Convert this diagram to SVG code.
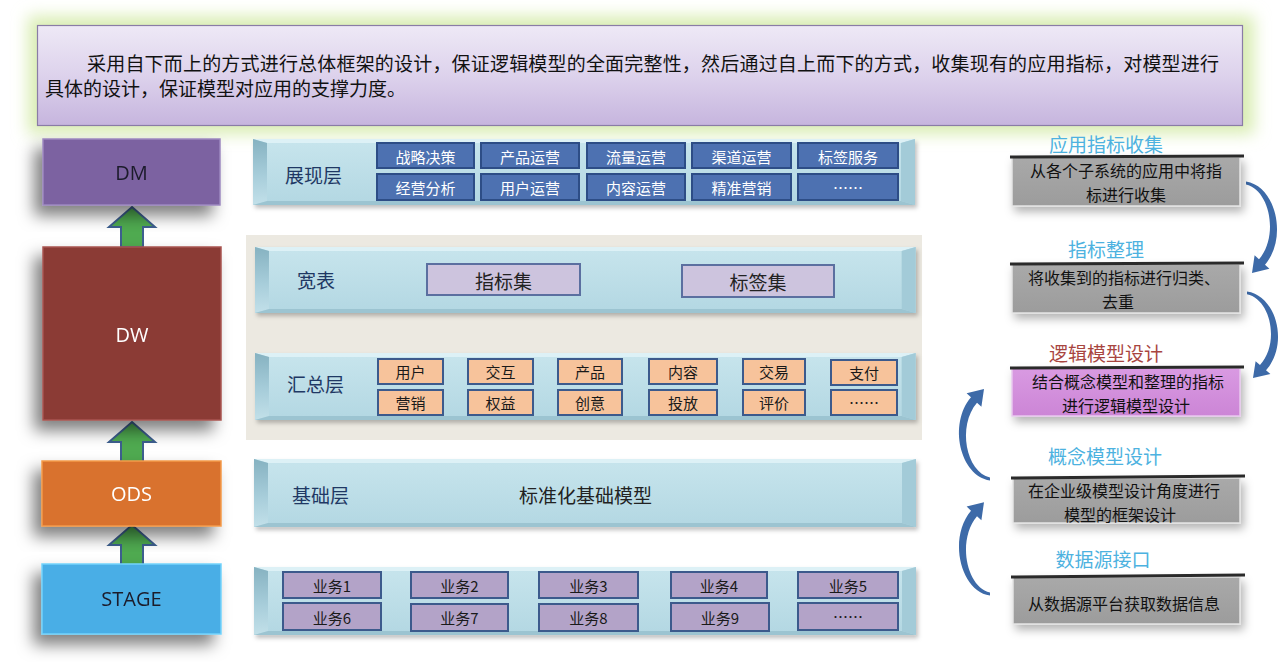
<svg xmlns="http://www.w3.org/2000/svg" xmlns:xlink="http://www.w3.org/1999/xlink" width="1280" height="672" viewBox="0 0 1280 672">
<style>
  .cn { font-family: "Noto Sans CJK SC", "Noto Sans", sans-serif; }
  .lat { font-family: "Open Sans", "DejaVu Sans", sans-serif; font-size: 20px; text-anchor: middle; dominant-baseline: central; }
  .lbl { font-size: 19px; fill: #1f3864; dominant-baseline: central; }
  .btn { fill: #4d71b1; stroke: #2d4d86; stroke-width: 2; }
  .btnt { font-size: 15px; fill: #ffffff; text-anchor: middle; dominant-baseline: central; }
  .org { fill: #f7c39b; stroke: #3c5a8c; stroke-width: 2; }
  .pur { fill: #b3a3c8; stroke: #3c5a8c; stroke-width: 2; }
  .lav { fill: #cdc4de; stroke: #5b6fa0; stroke-width: 2; }
  .dk15 { font-size: 15px; fill: #1a1a1a; text-anchor: middle; dominant-baseline: central; }
  .dk19 { font-size: 19px; fill: #222222; text-anchor: middle; dominant-baseline: central; }
  .ttl { font-size: 19px; text-anchor: middle; dominant-baseline: central; }
  .rt { font-size: 16px; fill: #111111; text-anchor: middle; dominant-baseline: central; }
  .gbox { fill: url(#grayGrad); stroke: #e4e4e4; stroke-width: 1.5; }
  .topline { stroke: #2a2a2a; stroke-width: 3; }
  .curve { fill: #3d6aa8; }
  .garrow { fill: #4faa50; stroke: #3d5f8f; stroke-width: 2; stroke-linejoin: miter; }
</style>
<defs>
  <linearGradient id="bannerGrad" x1="0" y1="0" x2="0" y2="1">
    <stop offset="0" stop-color="#eee9f6"/>
    <stop offset="0.5" stop-color="#ddd2ec"/>
    <stop offset="1" stop-color="#c6b5de"/>
  </linearGradient>
  <linearGradient id="grayGrad" x1="0" y1="0" x2="0" y2="1">
    <stop offset="0" stop-color="#a9a9a9"/>
    <stop offset="1" stop-color="#9c9c9c"/>
  </linearGradient>
  <linearGradient id="magGrad" x1="0" y1="0" x2="0" y2="1">
    <stop offset="0" stop-color="#d99ae2"/>
    <stop offset="1" stop-color="#cc85d6"/>
  </linearGradient>
  <linearGradient id="faceGrad" x1="0" y1="0" x2="0" y2="1">
    <stop offset="0" stop-color="#c6e4ec"/>
    <stop offset="1" stop-color="#b4d8e3"/>
  </linearGradient>
  <linearGradient id="leftBev" x1="0" y1="0" x2="0" y2="1">
    <stop offset="0" stop-color="#86b2c1"/>
    <stop offset="0.55" stop-color="#a7cdda"/>
    <stop offset="1" stop-color="#c2e0e9"/>
  </linearGradient>
  <filter id="glow" x="-10%" y="-40%" width="120%" height="180%">
    <feGaussianBlur stdDeviation="8"/>
  </filter>
  <filter id="shadowL" x="-30%" y="-30%" width="160%" height="170%">
    <feDropShadow dx="-8" dy="10" stdDeviation="8" flood-color="#000" flood-opacity="0.5"/>
  </filter>
  <filter id="shadowP" x="-5%" y="-20%" width="110%" height="150%">
    <feDropShadow dx="2" dy="3" stdDeviation="2" flood-color="#000" flood-opacity="0.25"/>
  </filter>
  <filter id="shadowR" x="-10%" y="-30%" width="125%" height="170%">
    <feDropShadow dx="3" dy="5" stdDeviation="5" flood-color="#000" flood-opacity="0.3"/>
  </filter>
  <g id="panel">
    <rect x="0" y="0" width="662" height="67" fill="#b8dbe5"/>
    <rect x="14" y="4" width="634" height="59" fill="url(#faceGrad)"/>
    <polygon points="0,0 662,0 648,4 14,4" fill="#ddf1f6"/>
    <polygon points="0,0 14,4 14,63 0,67" fill="url(#leftBev)"/>
    <polygon points="662,0 662,67 648,63 648,4" fill="#a3cbd8"/>
    <polygon points="0,67 14,63 648,63 662,67" fill="#9cc4d1"/>
  </g>
  <polygon id="garrowShape" class="garrow" points="0,0 23,20 11,20 11,40 -11,40 -11,20 -23,20"/>
  <path id="curveShape" class="curve" d="M0,-0.5 C30,4 42,56 19,82.7 L23.4,86.7 L6,91 L8.6,73.3 L13,77.3 C33,54 24,8 0,2.5 Z"/>
</defs>

<rect x="0" y="0" width="1280" height="672" fill="#ffffff"/>

<!-- banner -->
<g id="banner">
  <rect x="28" y="16" width="1226" height="118" fill="#d9edb2" filter="url(#glow)"/>
  <rect x="37.5" y="25.5" width="1205" height="100" fill="url(#bannerGrad)" stroke="#8a7ca6" stroke-width="1.2"/>
  <text class="cn" x="87" y="62" font-size="19" fill="#111" dominant-baseline="central" textLength="1132" lengthAdjust="spacing">采用自下而上的方式进行总体框架的设计，保证逻辑模型的全面完整性，然后通过自上而下的方式，收集现有的应用指标，对模型进行</text>
  <text class="cn" x="45" y="87" font-size="19" fill="#111" dominant-baseline="central">具体的设计，保证模型对应用的支撑力度。</text>
</g>

<!-- green arrows between layers, white arrow, curved arrows -->
<g id="connectors">
  <use xlink:href="#garrowShape" transform="translate(132,207)"/>
  <use xlink:href="#garrowShape" transform="translate(132,422)"/>
  <use xlink:href="#garrowShape" transform="translate(132,525)"/>
  <polygon points="632,312 656,332 643,332 643,349 621,349 621,332 608,332" fill="#ffffff" stroke="#3c5a8c" stroke-width="2.5"/>
  <use xlink:href="#curveShape" transform="translate(1246,182)"/>
  <use xlink:href="#curveShape" transform="translate(1247,292) scale(1,0.945)"/>
  <use xlink:href="#curveShape" transform="translate(990,480) scale(-1,-1)"/>
  <use xlink:href="#curveShape" transform="translate(990,595) scale(-1,-1.02)"/>
</g>

<!-- left column -->
<g id="node-dm" filter="url(#shadowL)">
  <rect x="43" y="139" width="177" height="66" fill="#7c62a1" stroke="#9d88c0" stroke-width="1.5"/>
  <text class="lat" x="131.5" y="172" fill="#1b1b2b">DM</text>
</g>
<g id="node-dw" filter="url(#shadowL)">
  <rect x="43" y="247" width="178" height="173" fill="#8b3a36" stroke="#a8544f" stroke-width="1.5"/>
  <text class="lat" x="132" y="334" fill="#ffffff">DW</text>
</g>
<g id="node-ods" filter="url(#shadowL)">
  <rect x="42" y="461" width="179" height="65" fill="#d9722d" stroke="#f39a4a" stroke-width="1.5"/>
  <text class="lat" x="131.5" y="493" fill="#ffffff">ODS</text>
</g>
<g id="node-stage" filter="url(#shadowL)">
  <rect x="42" y="564" width="179" height="70" fill="#49aee6" stroke="#72d2fb" stroke-width="1.5"/>
  <text class="lat" x="131.5" y="598" fill="#1b1b2b">STAGE</text>
</g>

<!-- gray backdrop -->
<rect x="246" y="235" width="676" height="205" fill="#ece9e1"/>

<!-- presentation layer -->
<g id="layer-present">
  <use xlink:href="#panel" transform="translate(253,139) scale(1,0.985)" filter="url(#shadowP)"/>
  <text class="cn lbl" x="285" y="174">展现层</text>
  <rect class="btn" x="377" y="143" width="97" height="25"/>
  <rect class="btn" x="481" y="143" width="98" height="25"/>
  <rect class="btn" x="587" y="143" width="98" height="25"/>
  <rect class="btn" x="692" y="143" width="99" height="25"/>
  <rect class="btn" x="798" y="143" width="100" height="25"/>
  <rect class="btn" x="377" y="174" width="97" height="26"/>
  <rect class="btn" x="481" y="174" width="98" height="26"/>
  <rect class="btn" x="587" y="174" width="98" height="26"/>
  <rect class="btn" x="692" y="174" width="99" height="26"/>
  <rect class="btn" x="798" y="174" width="100" height="26"/>
  <text class="cn btnt" x="425.5" y="156">战略决策</text>
  <text class="cn btnt" x="530" y="156">产品运营</text>
  <text class="cn btnt" x="636" y="156">流量运营</text>
  <text class="cn btnt" x="741.5" y="156">渠道运营</text>
  <text class="cn btnt" x="848" y="156">标签服务</text>
  <text class="cn btnt" x="425.5" y="187">经营分析</text>
  <text class="cn btnt" x="530" y="187">用户运营</text>
  <text class="cn btnt" x="636" y="187">内容运营</text>
  <text class="cn btnt" x="741.5" y="187">精准营销</text>
  <text class="cn btnt" x="848" y="187" font-size="11">……</text>
</g>

<!-- wide table layer -->
<g id="layer-wide">
  <use xlink:href="#panel" transform="translate(255,247) scale(0.998,0.985)" filter="url(#shadowP)"/>
  <text class="cn lbl" x="297" y="279">宽表</text>
  <rect class="lav" x="427" y="264" width="153" height="31"/>
  <rect class="lav" x="682" y="265" width="152" height="32"/>
  <text class="cn dk19" x="503.5" y="280">指标集</text>
  <text class="cn dk19" x="758" y="281">标签集</text>
</g>

<!-- summary layer -->
<g id="layer-summary">
  <use xlink:href="#panel" transform="translate(255,353) scale(0.998,1)" filter="url(#shadowP)"/>
  <text class="cn lbl" x="287" y="383">汇总层</text>
  <rect class="org" x="378" y="359" width="65" height="25"/>
  <rect class="org" x="468" y="359" width="65" height="25"/>
  <rect class="org" x="558" y="359" width="64" height="25"/>
  <rect class="org" x="649" y="359" width="68" height="25"/>
  <rect class="org" x="743" y="359" width="62" height="25"/>
  <rect class="org" x="831" y="360" width="66" height="25"/>
  <rect class="org" x="378" y="390" width="65" height="25"/>
  <rect class="org" x="468" y="390" width="65" height="25"/>
  <rect class="org" x="558" y="390" width="64" height="25"/>
  <rect class="org" x="649" y="390" width="68" height="25"/>
  <rect class="org" x="743" y="390" width="62" height="25"/>
  <rect class="org" x="831" y="390" width="66" height="25"/>
  <text class="cn dk15" x="410.5" y="371.5">用户</text>
  <text class="cn dk15" x="500.5" y="371.5">交互</text>
  <text class="cn dk15" x="590" y="371.5">产品</text>
  <text class="cn dk15" x="683" y="371.5">内容</text>
  <text class="cn dk15" x="774" y="371.5">交易</text>
  <text class="cn dk15" x="864" y="372.5">支付</text>
  <text class="cn dk15" x="410.5" y="402.5">营销</text>
  <text class="cn dk15" x="500.5" y="402.5">权益</text>
  <text class="cn dk15" x="590" y="402.5">创意</text>
  <text class="cn dk15" x="683" y="402.5">投放</text>
  <text class="cn dk15" x="774" y="402.5">评价</text>
  <text class="cn dk15" x="864" y="402.5" font-size="11">……</text>
</g>

<!-- base layer -->
<g id="layer-base">
  <use xlink:href="#panel" transform="translate(254,459) scale(1,1.015)" filter="url(#shadowP)"/>
  <text class="cn lbl" x="292" y="494">基础层</text>
  <text class="cn dk19" x="585.5" y="494">标准化基础模型</text>
</g>

<!-- business layer -->
<g id="layer-business">
  <use xlink:href="#panel" transform="translate(254,567) scale(1,1.015)" filter="url(#shadowP)"/>
  <rect class="pur" x="283" y="572" width="98" height="26"/>
  <rect class="pur" x="411" y="572" width="97" height="26"/>
  <rect class="pur" x="539" y="572" width="99" height="26"/>
  <rect class="pur" x="671" y="572" width="96" height="26"/>
  <rect class="pur" x="798" y="572" width="100" height="26"/>
  <rect class="pur" x="283" y="603" width="98" height="27"/>
  <rect class="pur" x="411" y="604" width="97" height="27"/>
  <rect class="pur" x="539" y="604" width="99" height="27"/>
  <rect class="pur" x="671" y="603" width="98" height="28"/>
  <rect class="pur" x="798" y="603" width="100" height="27"/>
  <text class="cn dk15" x="332" y="585">业务1</text>
  <text class="cn dk15" x="459.5" y="585">业务2</text>
  <text class="cn dk15" x="588.5" y="585">业务3</text>
  <text class="cn dk15" x="719" y="585">业务4</text>
  <text class="cn dk15" x="848" y="585">业务5</text>
  <text class="cn dk15" x="332" y="617">业务6</text>
  <text class="cn dk15" x="459.5" y="617">业务7</text>
  <text class="cn dk15" x="588.5" y="617">业务8</text>
  <text class="cn dk15" x="720" y="617">业务9</text>
  <text class="cn dk15" x="848" y="616" font-size="11">……</text>
</g>

<!-- right column steps -->
<g id="step-collect">
  <text class="cn ttl" x="1106" y="143" fill="#4db2e0">应用指标收集</text>
  <g filter="url(#shadowR)"><rect class="gbox" x="1012" y="157" width="228" height="49"/></g>
  <line class="topline" x1="1010" y1="157" x2="1244" y2="156"/>
  <text class="cn rt" x="1126" y="170">从各个子系统的应用中将指</text>
  <text class="cn rt" x="1126" y="194">标进行收集</text>
</g>
<g id="step-organize">
  <text class="cn ttl" x="1106" y="248" fill="#4db2e0">指标整理</text>
  <g filter="url(#shadowR)"><rect class="gbox" x="1012" y="264" width="228" height="49"/></g>
  <line class="topline" x1="1010" y1="264" x2="1244" y2="263"/>
  <text class="cn rt" x="1124" y="277">将收集到的指标进行归类、</text>
  <text class="cn rt" x="1118" y="301">去重</text>
</g>
<g id="step-logical">
  <text class="cn ttl" x="1106" y="352" fill="#a8453f">逻辑模型设计</text>
  <g filter="url(#shadowR)"><rect x="1012" y="368" width="228" height="48" fill="url(#magGrad)" stroke="#e8c8ee" stroke-width="1.5"/></g>
  <line class="topline" x1="1010" y1="368" x2="1244" y2="367"/>
  <text class="cn rt" x="1128" y="381">结合概念模型和整理的指标</text>
  <text class="cn rt" x="1126" y="405">进行逻辑模型设计</text>
</g>
<g id="step-concept">
  <text class="cn ttl" x="1105" y="455" fill="#4db2e0">概念模型设计</text>
  <g filter="url(#shadowR)"><rect class="gbox" x="1013" y="478" width="227" height="45"/></g>
  <line class="topline" x1="1011" y1="478" x2="1245" y2="476"/>
  <text class="cn rt" x="1124" y="490">在企业级模型设计角度进行</text>
  <text class="cn rt" x="1120" y="514">模型的框架设计</text>
</g>
<g id="step-source">
  <text class="cn ttl" x="1103" y="558" fill="#4db2e0">数据源接口</text>
  <g filter="url(#shadowR)"><rect class="gbox" x="1013" y="577" width="227" height="47"/></g>
  <line class="topline" x1="1011" y1="577" x2="1245" y2="575"/>
  <text class="cn rt" x="1124" y="603">从数据源平台获取数据信息</text>
</g>
</svg>
